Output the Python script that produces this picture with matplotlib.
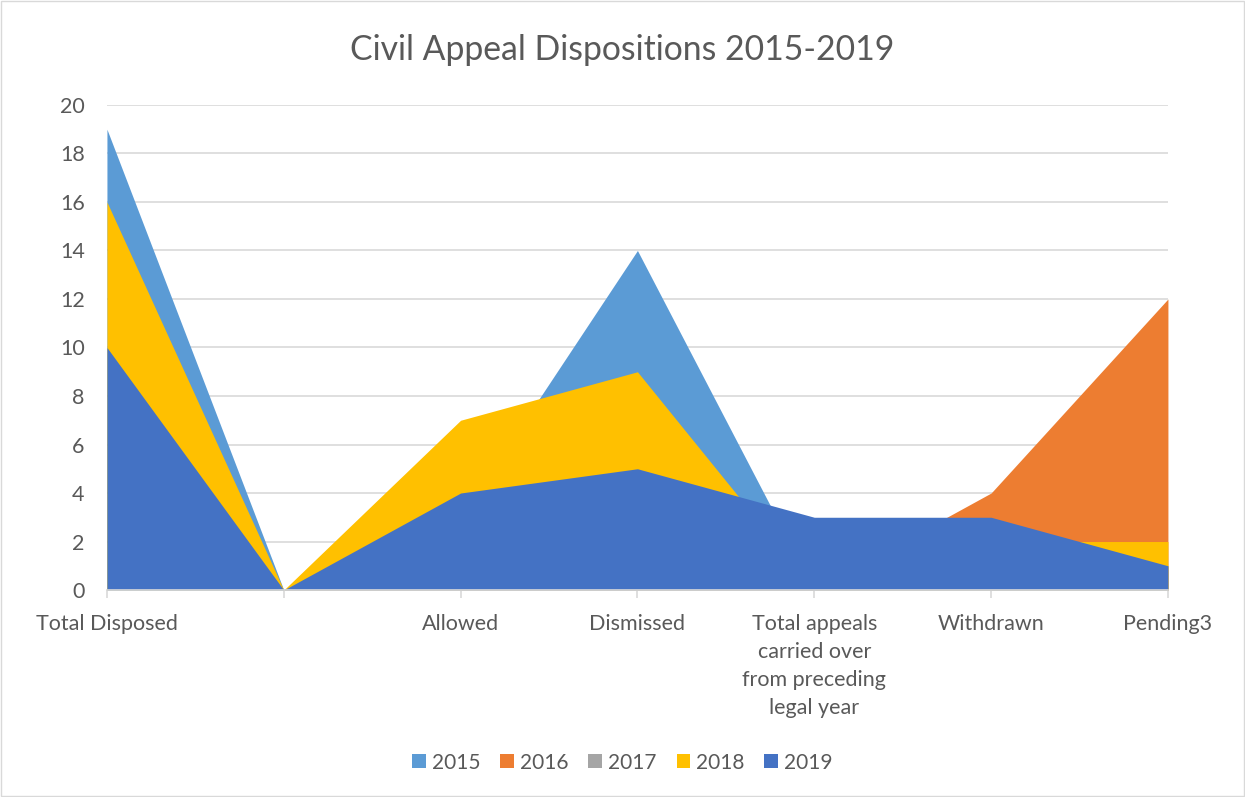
import numpy as np
import matplotlib.pyplot as plt
from matplotlib.patches import Rectangle

plt.rcParams['font.family'] = ['Lato', 'DejaVu Sans']

categories = ['Total Disposed', '', 'Allowed', 'Dismissed',
              'Total appeals\ncarried over\nfrom preceding\nlegal year',
              'Withdrawn', 'Pending3']
years = ['2015', '2016', '2017', '2018', '2019']
v2015 = [19, 0, 3, 14, 0, 0, 0]
v2016 = [0, 0, 2, 4, 0, 4, 12]
v2017 = [0, 0, 3, 4, 0, 1, 1]
v2018 = [16, 0, 7, 9, 0, 2, 2]
v2019 = [10, 0, 4, 5, 3, 3, 1]
colors = ['#5b9bd5', '#ed7d31', '#a5a5a5', '#ffc000', '#4472c4']

fig = plt.figure(figsize=(12.45, 7.97), dpi=100)
fig.patches.append(Rectangle((0.001, 0.001), 0.998, 0.998, transform=fig.transFigure,
                             fill=False, edgecolor='#d9d9d9', linewidth=1))
ax = fig.add_axes([0.0859, 0.2597, 0.8522, 0.6086])

x = np.arange(len(categories))
series = [v2015, v2016, v2017, v2018, v2019]
for i, (name, vals) in enumerate(zip(years, series)):
    ax.fill_between(x, 0, vals, color=colors[i], linewidth=0, zorder=2 + i, label=name)

ax.set_xlim(0, len(categories) - 1)
ax.set_ylim(0, 20)
ax.set_yticks(range(0, 21, 2))
ax.yaxis.grid(True, color='#d9d9d9', linewidth=1.2, zorder=0)
ax.set_axisbelow(True)
for s in ['top', 'right', 'left']:
    ax.spines[s].set_visible(False)
ax.spines['bottom'].set_color('#d9d9d9')
ax.spines['bottom'].set_linewidth(1.2)
ax.spines['bottom'].set_zorder(10)

ax.set_xticks(x)
ax.set_xticklabels(categories, fontsize=15.5, color='#595959', linespacing=1.5)
ax.tick_params(axis='x', length=6, color='#d9d9d9', width=1.2, pad=11)
ax.tick_params(axis='y', length=0, labelsize=15.5, labelcolor='#595959', pad=16)

fig.text(0.5, 0.937, 'Civil Appeal Dispositions 2015-2019', ha='center', va='center',
         fontsize=24.3, color='#595959')

fig.legend(loc='center', bbox_to_anchor=(0.5, 0.043), ncol=5, frameon=False,
           fontsize=15, labelcolor='#595959', handlelength=0.65, handleheight=0.65,
           handletextpad=0.3, columnspacing=0.95)

fig.savefig('out.png', dpi=100)
